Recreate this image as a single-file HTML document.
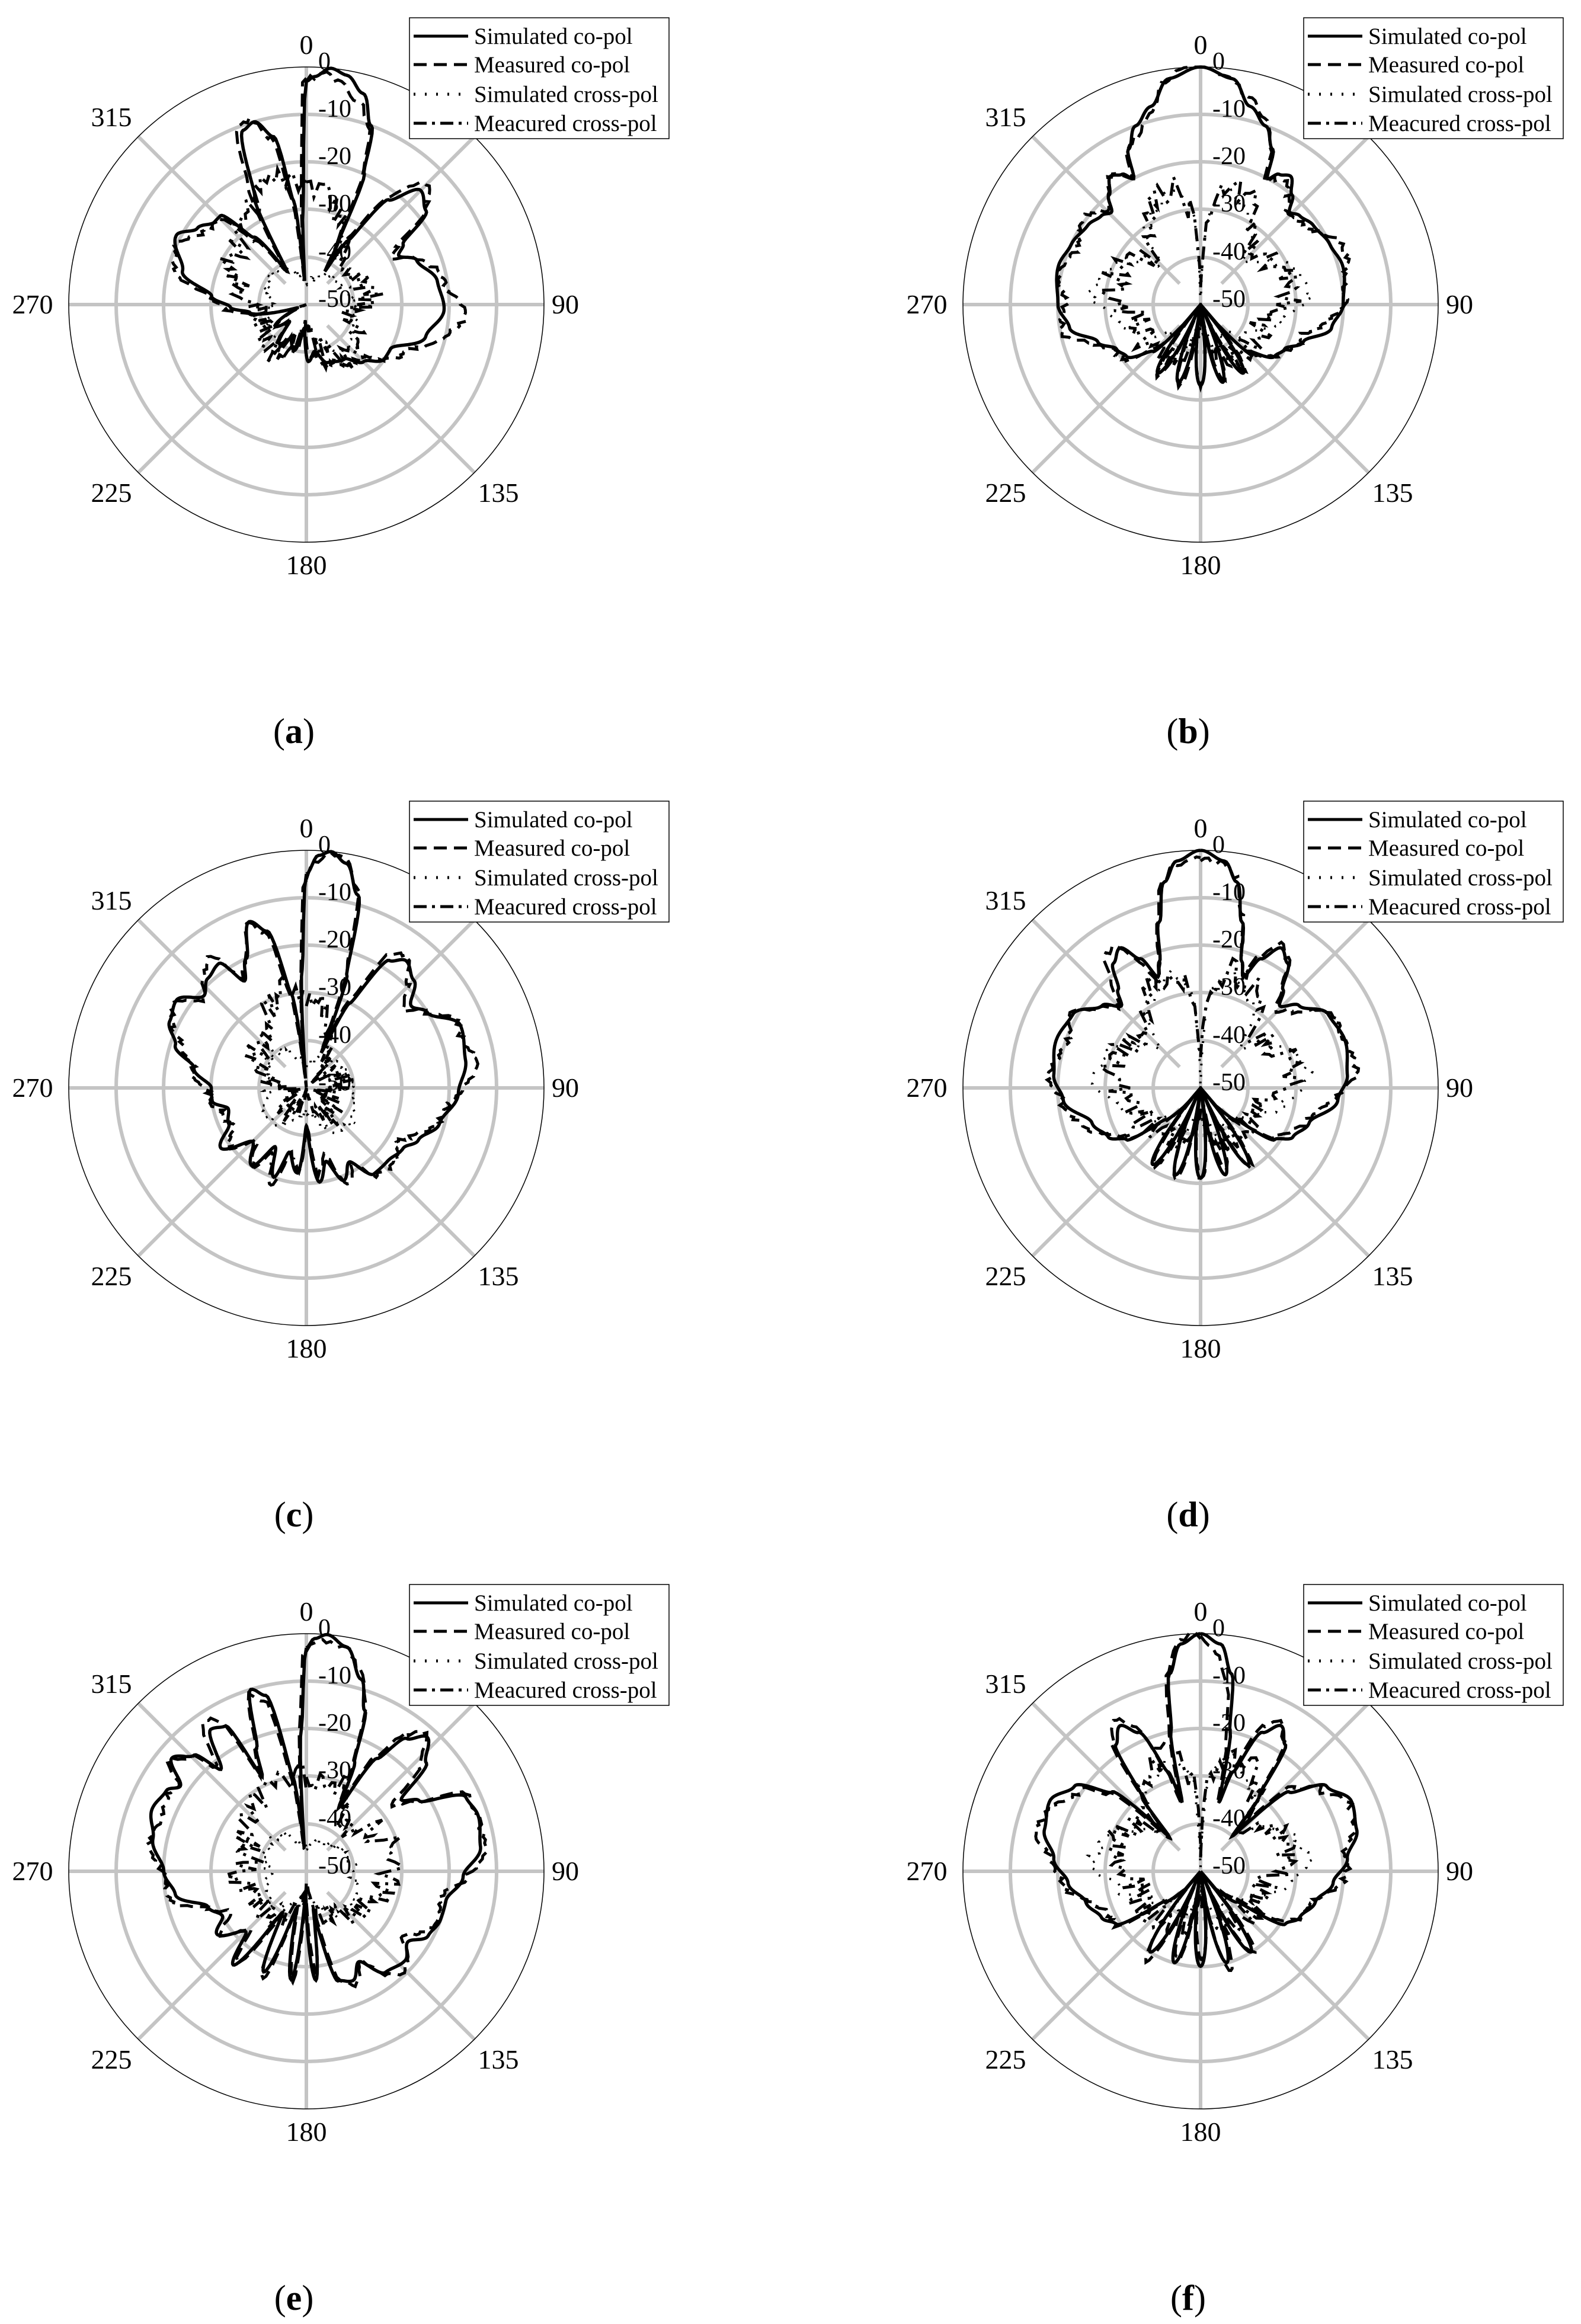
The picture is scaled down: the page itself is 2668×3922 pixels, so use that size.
<!DOCTYPE html>
<html><head><meta charset="utf-8">
<style>
html,body{margin:0;padding:0;background:#fff;}
svg{display:block;}
text{font-family:"Liberation Serif",serif;fill:#000;}
</style></head>
<body>
<svg id="s" width="2668" height="3922" viewBox="0 0 2668 3922" xmlns="http://www.w3.org/2000/svg"></svg>
<script>
(function(){
var S=document.getElementById('s');
var NS='http://www.w3.org/2000/svg';
var R=401;
function el(tag,attrs,txt){var e=document.createElementNS(NS,tag);for(var k in attrs)e.setAttribute(k,attrs[k]);if(txt!==undefined)e.textContent=txt;S.appendChild(e);return e;}
var seed=12345;function rnd(){seed=(seed*1103515245+12345)%2147483648;return seed/2147483648;}
function interp(pts,th){
  th=((th%360)+360)%360;
  var n=pts.length;
  for(var i=0;i<n;i++){
    var a=pts[i],b=pts[(i+1)%n];
    var a0=a[0],b0=b[0];if(b0<=a0)b0+=360;
    var t=th; if(t<a0)t+=360;
    if(t>=a0&&t<=b0){var f=(t-a0)/(b0-a0);f=(1-Math.cos(Math.PI*f))/2;return a[1]+(b[1]-a[1])*f;}
  }
  return pts[0][1];
}
function mirror(h){var p=h.slice();for(var i=h.length-1;i>=0;i--){var a=h[i][0];if(a>0&&a<180)p.push([360-a,h[i][1]]);}p.sort(function(x,y){return x[0]-y[0];});return p;}
function fingers(th,s,e,n,hi,lo){var f=Math.abs(Math.sin(Math.PI*n*(th-s)/(e-s)));return lo+(hi-lo)*Math.pow(f,0.8);}
function path(cx,cy,fn,step){
  var d='';for(var t=0;t<=360;t+=step){var db=fn(t);var r=Math.max(0,(db+50)/50*R);if(r>R)r=R;var a=t*Math.PI/180;var x=cx+r*Math.sin(a),y=cy-r*Math.cos(a);d+=(t===0?'M':'L')+x.toFixed(1)+' '+y.toFixed(1);}
  return d;
}
function grid(cx,cy){
  [80,161,241,321].forEach(function(r){el('circle',{cx:cx,cy:cy,r:r,fill:'none',stroke:'#c4c4c4','stroke-width':6});});
  el('line',{x1:cx-R,y1:cy,x2:cx+R,y2:cy,stroke:'#c4c4c4','stroke-width':6});
  el('line',{x1:cx,y1:cy-R,x2:cx,y2:cy+R,stroke:'#c4c4c4','stroke-width':6});
  [45,135,225,315].forEach(function(a){var t=a*Math.PI/180;el('line',{x1:cx+50*Math.sin(t),y1:cy-50*Math.cos(t),x2:cx+R*Math.sin(t),y2:cy-R*Math.cos(t),stroke:'#c4c4c4','stroke-width':6});});
  el('circle',{cx:cx,cy:cy,r:R,fill:'none',stroke:'#000','stroke-width':1.5});
  var L=[['0',0,-438],['90',437,0],['180',0,440],['270',-462,0],['315',-329,-316],['135',324,318],['225',-329,318]];
  L.forEach(function(l){el('text',{x:cx+l[1],y:cy+l[2]+15,'font-size':46,'text-anchor':'middle'},l[0]);});
  var rl=[[0,R],[-10,321],[-20,241],[-30,161],[-40,80],[-50,0]];
  rl.forEach(function(q){el('text',{x:cx+20,y:cy-q[1]+4,'font-size':42},String(q[0]));});
}
function legend(cx,cy){
  el('rect',{x:cx+174,y:cy-484,width:438,height:204,fill:'#fff',stroke:'#000','stroke-width':1.5});
  var names=['Simulated co-pol','Measured co-pol','Simulated cross-pol','Meacured cross-pol'];
  var dash=['none','22 12','3 16','22 9 5 9'];
  var ys=[-453,-405,-355,-306];
  for(var i=0;i<4;i++){
    var a={x1:cx+181,y1:cy+ys[i],x2:cx+273,y2:cy+ys[i],stroke:'#000','stroke-width':5};
    if(dash[i]!=='none')a['stroke-dasharray']=dash[i];
    el('line',a);
    el('text',{x:cx+283,y:cy+ys[i]+13,'font-size':39},names[i]);
  }
}
function curves(cx,cy,cfg){
  var p1=rnd()*6,p2=rnd()*6;
  var meas=function(t){return cfg.sim(t+0.8)+1.3*Math.sin(t*Math.PI/180*6+p1)+0.9*Math.sin(t*Math.PI/180*15+p2)+(cfg.mb?cfg.mb(t):0)+(rnd()-0.5)*1.2;};
  var xs=function(t){return cfg.xs(t)+(rnd()-0.5)*2;};
  var xmv={};for(var t=0;t<=362;t+=1){xmv[t]=cfg.xm(t)+(rnd()-0.5)*6;}
  var xm=function(t){return xmv[Math.round(t)];};
  el('path',{d:path(cx,cy,xs,2),fill:'none',stroke:'#000','stroke-width':4,'stroke-dasharray':'3 16'});
  el('path',{d:path(cx,cy,xm,2),fill:'none',stroke:'#000','stroke-width':5,'stroke-dasharray':'22 10 5 10'});
  el('path',{d:path(cx,cy,meas,1),fill:'none',stroke:'#000','stroke-width':5,'stroke-dasharray':'22 12'});
  el('path',{d:path(cx,cy,cfg.sim,0.5),fill:'none',stroke:'#000','stroke-width':5.5});
}
function caption(cx,cy,l){
  var t=el('text',{x:cx-21,y:cy+740,'font-size':60,'text-anchor':'middle'});
  var a=document.createElementNS(NS,'tspan');a.textContent='(';t.appendChild(a);
  var b=document.createElementNS(NS,'tspan');b.setAttribute('font-weight','bold');b.textContent=l;t.appendChild(b);
  var c=document.createElementNS(NS,'tspan');c.textContent=')';t.appendChild(c);
}
var A=[[0,-3],[2,-2],[6,0],[10,-1],[15,-4],[20,-10],[24,-20],[27,-35],[29,-42],[33,-34],[38,-22],[45,-16],[52,-18],[58,-26],[62,-28],[68,-25],[80,-22],[92,-21],[105,-24],[118,-30],[125,-30],[135,-33],[145,-36],[160,-37],[170,-40],[178,-38],[185,-45],[195,-40],[205,-42],[215,-40],[225,-45],[235,-42],[250,-48],[262,-38],[268,-34],[275,-30],[285,-23],[298,-19],[305,-22],[312,-24],[316,-24],[322,-32],[330,-42],[334,-25],[340,-11],[344,-10],[349,-14],[353,-28],[356,-45],[358,-30]];
var Bh=mirror([[0,0],[8,-2],[14,-7],[20,-10],[25,-14],[28,-20],[31,-18],[35,-17],[40,-20],[44,-23],[48,-22],[55,-21],[65,-20],[75,-19],[90,-20],[100,-22],[110,-27],[118,-30],[125,-31],[135,-36],[140,-45],[180,-45]]);
var C=[[0,-5],[3,-1],[6,0],[10,-2],[15,-8],[20,-25],[23,-42],[27,-30],[33,-18],[38,-16],[45,-18],[52,-22],[58,-20],[68,-15],[80,-16],[92,-18],[105,-21],[115,-24],[122,-26],[132,-27],[142,-27],[150,-32],[158,-29],[165,-34],[172,-30],[180,-42],[186,-32],[195,-36],[200,-30],[208,-36],[215,-30],[225,-34],[235,-28],[245,-32],[255,-33],[262,-30],[270,-30],[280,-26],[288,-21],[296,-18],[304,-17],[312,-21],[318,-19],[325,-18],[330,-24],[335,-20],[341,-13],[346,-16],[351,-30],[355,-48],[358,-25]];
var Dh=mirror([[0,0],[6,-2],[10,-6],[14,-14],[18,-22],[21,-25],[25,-20],[30,-16],[35,-18],[40,-23],[44,-26],[50,-23],[60,-19],[72,-18],[85,-19],[95,-21],[108,-26],[118,-28],[125,-31],[132,-40],[140,-45],[180,-45]]);
var E=[[0,-3],[2,-1],[5,0],[10,-2],[16,-8],[20,-14],[24,-25],[27,-35],[32,-22],[37,-15],[42,-12],[48,-16],[53,-25],[58,-22],[65,-13],[72,-12],[82,-13],[92,-17],[102,-20],[110,-20],[118,-21],[125,-24],[132,-22],[142,-23],[150,-28],[157,-25],[164,-26],[170,-40],[175,-27],[182,-45],[188,-27],[195,-42],[203,-27],[210,-40],[218,-25],[225,-32],[235,-27],[242,-30],[250,-28],[260,-22],[270,-20],[282,-17],[292,-15],[300,-16],[304,-18],[310,-13],[316,-16],[320,-22],[326,-14],[331,-15],[335,-28],[338,-22],[343,-10],[347,-12],[352,-30],[355,-45],[358,-20]];
var Fh=mirror([[0,0],[5,-2],[9,-8],[12,-20],[15,-35],[18,-28],[24,-18],[29,-15],[34,-18],[38,-30],[42,-40],[48,-25],[56,-18],[65,-15],[75,-16],[85,-19],[95,-22],[105,-25],[115,-27],[122,-29],[130,-40],[140,-45],[180,-45]]);
function symSim(pts,s,e,n,hi){return function(t){t=((t%360)+360)%360;if(t>=s&&t<=e)return fingers(t,s,e,n,hi,-50);return interp(pts,t);};}
var XSsym=mirror([[0,-50],[5,-30],[15,-25],[25,-28],[35,-30],[45,-38],[55,-34],[70,-29],[85,-27],[100,-32],[120,-38],[140,-42],[160,-40],[180,-50]]);
var XMsym=mirror([[0,-45],[5,-30],[15,-24],[25,-26],[35,-30],[45,-36],[55,-33],[70,-31],[85,-31],[100,-36],[120,-36],[140,-37],[160,-38],[180,-45]]);
var XA=[[0,-25],[10,-26],[20,-30],[30,-36],[45,-40],[60,-38],[80,-36],[100,-40],[120,-38],[140,-36],[160,-40],[180,-45],[200,-40],[220,-38],[240,-40],[260,-40],[280,-36],[300,-32],[320,-30],[340,-24],[350,-22]];
var XS=[[0,-45],[45,-42],[90,-40],[135,-38],[180,-45],[225,-40],[270,-42],[315,-40]];
var XE=[[0,-30],[20,-30],[40,-38],[60,-33],[80,-30],[100,-33],[120,-36],[140,-38],[160,-40],[180,-45],[200,-40],[220,-38],[240,-37],[260,-36],[280,-38],[300,-36],[320,-32],[340,-30]];
var cfgs=[
 {cx:517,cy:514,l:'a',sim:function(t){return interp(A,t);},mb:function(t){t=((t%360)+360)%360;return (t>60&&t<140)?3*Math.sin(Math.PI*(t-60)/80):0;},xs:function(t){return interp(XS,t);},xm:function(t){return interp(XA,t);}},
 {cx:2026,cy:514,l:'b',sim:symSim(Bh,140,220,5,-33),xs:function(t){return interp(XSsym,t);},xm:function(t){return interp(XMsym,t);}},
 {cx:517,cy:1836,l:'c',sim:function(t){return interp(C,t);},xs:function(t){return interp(XS,t);},xm:function(t){return interp(XA,t)-6;}},
 {cx:2026,cy:1836,l:'d',sim:symSim(Dh,140,220,5,-31),xs:function(t){return interp(XSsym,t);},xm:function(t){return interp(XMsym,t);}},
 {cx:517,cy:3158,l:'e',sim:function(t){return interp(E,t);},xs:function(t){return interp(XS,t);},xm:function(t){return interp(XE,t);}},
 {cx:2026,cy:3158,l:'f',sim:symSim(Fh,140,220,5,-30),xs:function(t){return interp(XSsym,t);},xm:function(t){return interp(XMsym,t);}}
];
cfgs.forEach(function(c){grid(c.cx,c.cy);curves(c.cx,c.cy,c);legend(c.cx,c.cy);caption(c.cx,c.cy,c.l);});
})();
</script>
</body></html>
